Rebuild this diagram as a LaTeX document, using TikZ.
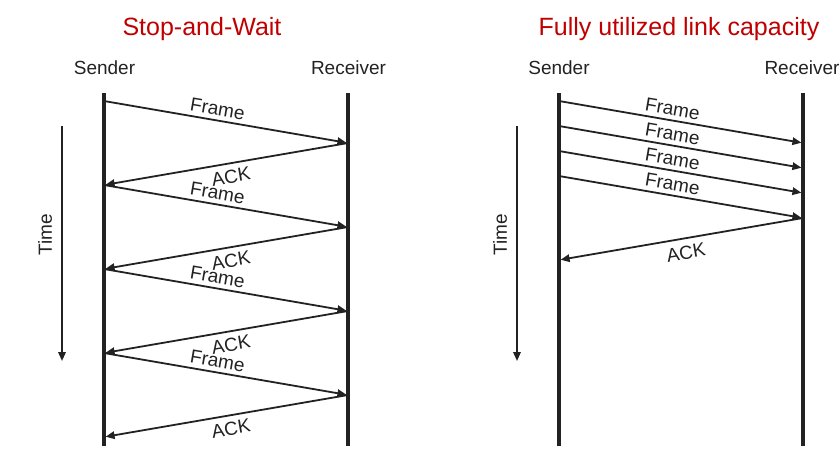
\documentclass[tikz,border=0pt]{standalone}
\usepackage{fontspec}
\setmainfont{Liberation Sans}
\usetikzlibrary{arrows.meta}
\definecolor{ink}{HTML}{222222}
\definecolor{titlered}{HTML}{C00000}
\begin{document}
\begin{tikzpicture}[x=1pt,y=-1pt,
  lbl/.style={font=\fontsize{19}{22}\selectfont, text=ink, inner sep=0pt},
  ttl/.style={font=\fontsize{25}{28}\selectfont, text=titlered, inner sep=0pt, anchor=base},
  head/.style={lbl, anchor=base},
  life/.style={draw=ink, line width=3.3pt},
  msg/.style={draw=ink, line width=1.8pt, shorten >=1.6pt, -{Triangle[length=9pt,width=7.5pt]}},
  timeax/.style={draw=ink, line width=1.8pt, -{Triangle[length=9pt,width=7.5pt]}}]
\useasboundingbox (0,0) rectangle (840,469);

% ---------- Stop-and-Wait ----------
\node[ttl] (t1) at (202,35) {Stop-and-Wait};
\node[head] (lsn) at (104.5,74) {Sender};
\node[head] (lrn) at (348.5,74) {Receiver};
\coordinate (lstop) at (104,93); \coordinate (lsbot) at (104,446);
\coordinate (lrtop) at (348,93); \coordinate (lrbot) at (348,446);
\draw[life] (lstop) -- (lsbot);
\draw[life] (lrtop) -- (lrbot);
\coordinate (lt0) at (62,126); \coordinate (lt1) at (62,361);
\draw[timeax] (lt0) -- (lt1);
\node[lbl, rotate=90] (ltime) at (45,235) {Time};
\foreach \i in {0,...,3} {
  \coordinate (LS\i) at (104,{101+84*\i});
  \coordinate (LR\i) at (348,{143+84*\i});
  \coordinate (LB\i) at (104,{185+84*\i});
  \draw[msg] (LS\i) -- (LR\i);
  \draw[msg] (LR\i) -- (LB\i);
  \node[lbl, rotate=-9.77] (LF\i) at (217.5,{109+84*\i}) {Frame};
  \node[lbl, rotate=9.77] (LA\i) at (231,{176.7+84*\i}) {ACK};
}

% ---------- Fully utilized link capacity ----------
\node[ttl] (t2) at (679,35.5) {Fully utilized link capacity};
\node[head] (rsn) at (559,74) {Sender};
\node[head] (rrn) at (802,74) {Receiver};
\coordinate (rstop) at (559,93); \coordinate (rsbot) at (559,446);
\coordinate (rrtop) at (803,93); \coordinate (rrbot) at (803,446);
\draw[life] (rstop) -- (rsbot);
\draw[life] (rrtop) -- (rrbot);
\coordinate (rt0) at (517,126); \coordinate (rt1) at (517,361);
\draw[timeax] (rt0) -- (rt1);
\node[lbl, rotate=90] (rtime) at (500,235) {Time};
\foreach \i in {0,...,3} {
  \coordinate (RS\i) at (559,{101+25*\i});
  \coordinate (RR\i) at (803,{143+25*\i});
  \draw[msg] (RS\i) -- (RR\i);
  \node[lbl, rotate=-9.77] (RF\i) at (672.5,{109+25*\i}) {Frame};
}
\coordinate (RB) at (559,260);
\draw[msg] (RR3) -- (RB);
\node[lbl, rotate=9.77] (RA) at (686,252.5) {ACK};
\end{tikzpicture}
\end{document}
